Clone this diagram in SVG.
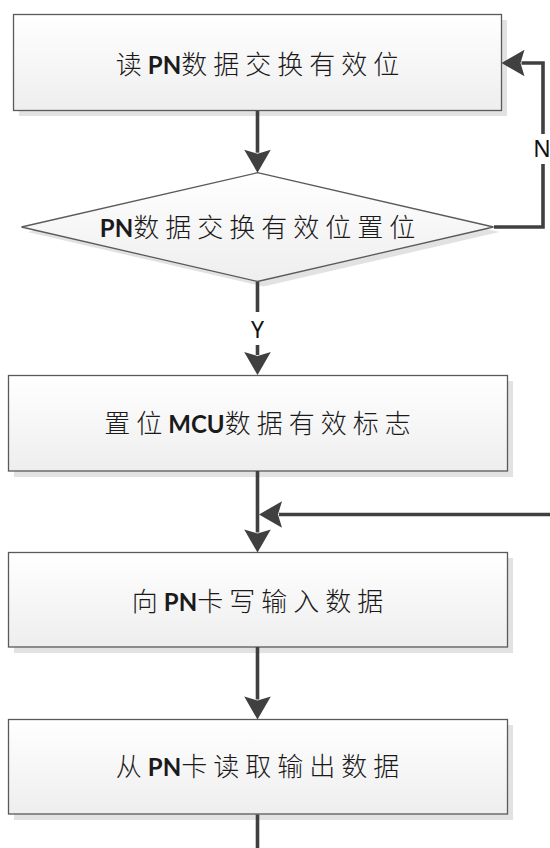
<svg xmlns="http://www.w3.org/2000/svg" width="550" height="848" viewBox="0 0 550 848">
<style>
.box{stroke:#5a5a5a;stroke-width:1.3;fill:url(#g)}
.sh{fill:#e2e2e2;stroke:none}
.t{font-size:24px;fill:#1a1a1a;text-anchor:middle}
.c{font-family:"Noto Sans CJK SC","Noto Sans CJK JP",sans-serif;font-size:26px;font-weight:300;letter-spacing:6px}
.l{font-family:Lato,"Open Sans",sans-serif;font-size:24px;font-weight:700;letter-spacing:0}
.lbl{font-family:"Noto Sans","Liberation Sans",sans-serif;font-size:23px;fill:#111;text-anchor:middle}
.ln{stroke:#404040;stroke-width:3.6;fill:none}
</style>
<defs>
<linearGradient id="g" x1="0" y1="0" x2="0" y2="1">
<stop offset="0" stop-color="#ffffff"/>
<stop offset="1" stop-color="#eeeeee"/>
</linearGradient>
<marker id="a" viewBox="-1 -14 25 28" refX="3" refY="0" markerWidth="25" markerHeight="28" markerUnits="userSpaceOnUse" orient="auto">
<path d="M0,-13.3 L23,0 L0,13.3 L4,0 Z" fill="#404040"/>
</marker>
</defs>

<g id="n1">
<rect class="sh" x="19" y="20" width="488" height="96"/>
<rect class="box" x="13.5" y="14.5" width="488" height="96"/>
<text class="t" x="260.5" y="74"><tspan class="c">读</tspan><tspan class="l">PN</tspan><tspan class="c">数据交换有效位</tspan></text>
</g>

<g id="n2">
<polygon class="sh" points="263.5,177.5 499.5,232 263.5,286.5 27.5,232"/>
<polygon class="box" points="257.5,172.7 493.5,227 257.5,281.5 21.5,227"/>
<text class="t" x="260.5" y="237"><tspan class="l">PN</tspan><tspan class="c">数据交换有效位置位</tspan></text>
</g>

<g id="n3">
<rect class="sh" x="14" y="381" width="499" height="96"/>
<rect class="box" x="8.5" y="375.5" width="499" height="95.5"/>
<text class="t" x="260.5" y="433"><tspan class="c">置位</tspan><tspan class="l">MCU</tspan><tspan class="c">数据有效标志</tspan></text>
</g>

<g id="n4">
<rect class="sh" x="14" y="558" width="499" height="95"/>
<rect class="box" x="8.5" y="552.5" width="499" height="94.5"/>
<text class="t" x="260.5" y="611"><tspan class="c">向</tspan><tspan class="l">PN</tspan><tspan class="c">卡写输入数据</tspan></text>
</g>

<g id="n5">
<rect class="sh" x="14" y="725" width="499" height="95"/>
<rect class="box" x="8.5" y="719.5" width="499" height="94.5"/>
<text class="t" x="260.5" y="776"><tspan class="c">从</tspan><tspan class="l">PN</tspan><tspan class="c">卡读取输出数据</tspan></text>
</g>

<g id="connectors">
<path class="ln" d="M257.5,111 V152.7" marker-end="url(#a)"/>
<path class="ln" d="M494,227 H543 V164"/>
<path class="ln" d="M543,134 V63 H521.5" marker-end="url(#a)"/>
<text class="lbl" x="542" y="157">N</text>
<path class="ln" d="M257.5,282 V312"/>
<path class="ln" d="M257.5,345 V355" marker-end="url(#a)"/>
<text class="lbl" x="257.5" y="338">Y</text>
<path class="ln" d="M257.5,471 V532.5" marker-end="url(#a)"/>
<path class="ln" d="M550,514.5 H279" marker-end="url(#a)"/>
<path class="ln" d="M257.5,647 V699.5" marker-end="url(#a)"/>
<path class="ln" d="M257.5,814.5 V848"/>
</g>
</svg>
